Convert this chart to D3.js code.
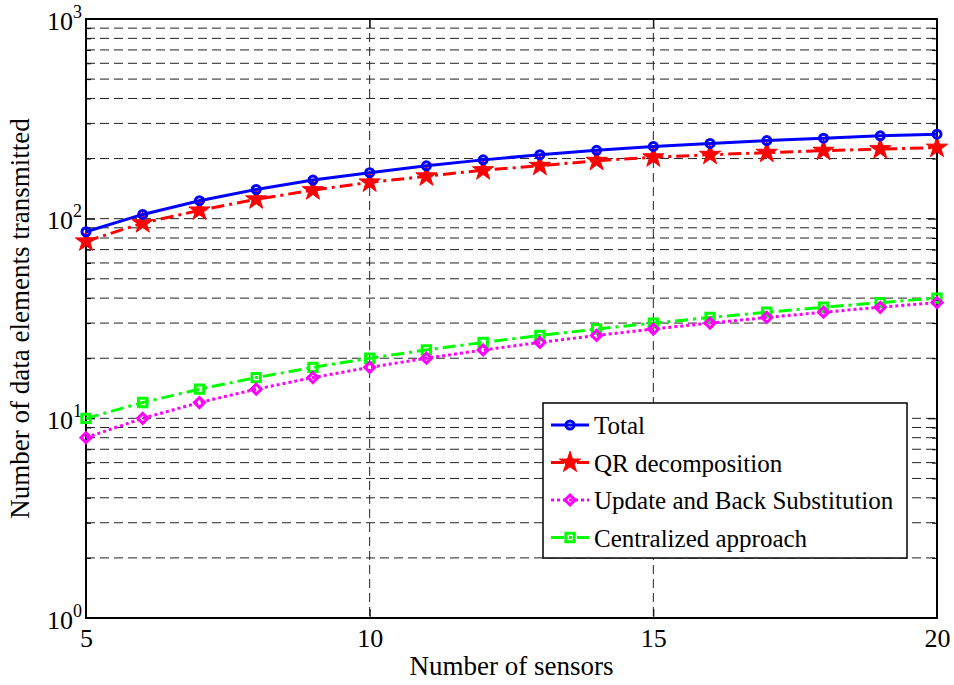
<!DOCTYPE html>
<html>
<head>
<meta charset="utf-8">
<script src="https://cdn.jsdelivr.net/npm/d3@7"></script>
<style>
  body { margin: 0; background: #fff; }
  svg { display: block; }
  svg text { font-family: "Liberation Serif", "Times New Roman", serif; }
</style>
</head>
<body>
<div class="chart"></div>
<script>
const width = 954;
const height = 685;
const margin = {top: 19, right: 17, bottom: 67, left: 86};

// data
const sensors = [5, 6, 7, 8, 9, 10, 11, 12, 13, 14, 15, 16, 17, 18, 19, 20];
const total = [86, 105, 123, 140, 156, 170, 184, 197, 209, 220, 230, 238, 246, 253, 260, 265];
const qrDecomp = [77, 95, 110, 125, 139, 152, 163, 175, 184, 195, 203, 209, 214, 219, 223, 227];
const updateBack = [8, 10, 12, 14, 16, 18, 20, 22, 24, 26, 28, 30, 32, 34, 36, 38];
const centralized = [10, 12, 14, 16, 18, 20, 22, 24, 26, 28, 30, 32, 34, 36, 38, 40];
const xTicks = [5, 10, 15, 20];
const yMajor = [1, 10, 100, 1000];
const yMinor = [2, 3, 4, 5, 6, 7, 8, 9, 20, 30, 40, 50, 60, 70, 80, 90, 200, 300, 400, 500, 600, 700, 800, 900];

const series = [
  {name: 'Total', values: total, color: '#0000ff', dash: null, marker: 'circle'},
  {name: 'QR decomposition', values: qrDecomp, color: '#ff0000', dash: '13,5,3,5', marker: 'star'},
  {name: 'Update and Back Substitution', values: updateBack, color: '#ff00ff', dash: '3,3', marker: 'diamond'},
  {name: 'Centralized approach', values: centralized, color: '#00ff00', dash: '13,5,3,5', marker: 'square'}
];

const innerWidth = width - margin.left - margin.right;
const innerHeight = height - margin.top - margin.bottom;

const svg = d3.select('.chart').append('svg')
  .attr('width', width)
  .attr('height', height);

const g = svg.append('g').attr('transform', `translate(${margin.left},${margin.top})`);

const xScale = d3.scaleLinear().domain([5, 20]).range([0, innerWidth]);
const yScale = d3.scaleLog().domain([1, 1000]).range([innerHeight, 0]);

// grid (dashed)
g.append('g').attr('class', 'grid')
  .selectAll('line.h')
  .data(yMajor.concat(yMinor).filter(v => v > 1 && v < 1000))
  .join('line')
  .attr('x1', 0).attr('x2', innerWidth)
  .attr('y1', d => yScale(d)).attr('y2', d => yScale(d))
  .attr('stroke', '#222').attr('stroke-width', 1).attr('stroke-dasharray', '9,5');

g.append('g').attr('class', 'grid')
  .selectAll('line.v')
  .data(xTicks.filter(v => v > 5 && v < 20))
  .join('line')
  .attr('x1', d => xScale(d)).attr('x2', d => xScale(d))
  .attr('y1', 0).attr('y2', innerHeight)
  .attr('stroke', '#222').attr('stroke-width', 1).attr('stroke-dasharray', '9,5');

// axes, ticks pointing inside
const axisStyle = sel => {
  sel.attr('font-family', null).attr('font-size', 26);
  sel.select('.domain').remove();
  sel.selectAll('.tick line').attr('stroke', '#000').attr('stroke-width', 1);
  sel.selectAll('.tick text').filter(function() { return !this.textContent; }).remove();
};

g.append('g')
  .attr('transform', `translate(0,${innerHeight})`)
  .call(d3.axisBottom(xScale).tickValues(xTicks).tickSize(-9).tickPadding(11).tickFormat(d3.format('d')))
  .call(axisStyle)
  .selectAll('text').attr('fill', '#000');

g.append('g')
  .call(d3.axisTop(xScale).tickValues(xTicks).tickSize(-9).tickFormat(''))
  .call(axisStyle);

const yAxis = g.append('g')
  .call(d3.axisLeft(yScale).tickValues(yMajor).tickSize(-9).tickFormat(''))
  .call(axisStyle);

yAxis.selectAll('.tick').append('text')
  .attr('x', -4).attr('y', 10)
  .attr('text-anchor', 'end')
  .attr('fill', '#000')
  .text('10')
  .append('tspan')
  .attr('dy', -12).attr('font-size', 18)
  .text(d => Math.round(Math.log10(d)));

g.append('g')
  .call(d3.axisLeft(yScale).tickValues(yMinor).tickSize(-5).tickFormat(''))
  .call(axisStyle);

g.append('g')
  .attr('transform', `translate(${innerWidth},0)`)
  .call(d3.axisRight(yScale).tickValues(yMajor).tickSize(-9).tickFormat(''))
  .call(axisStyle);

g.append('g')
  .attr('transform', `translate(${innerWidth},0)`)
  .call(d3.axisRight(yScale).tickValues(yMinor).tickSize(-5).tickFormat(''))
  .call(axisStyle);

// box
g.append('rect')
  .attr('width', innerWidth).attr('height', innerHeight)
  .attr('fill', 'none').attr('stroke', '#000').attr('stroke-width', 2);

// markers
const drawMarker = (sel, type, color) => {
  if (type === 'circle') {
    sel.append('circle').attr('r', 4)
      .attr('fill', 'none').attr('stroke', color).attr('stroke-width', 3);
  } else if (type === 'star') {
    sel.append('path').attr('d', d3.symbol(d3.symbolStar, 140)())
      .attr('fill', color).attr('stroke', color).attr('stroke-width', 1);
  } else if (type === 'diamond') {
    sel.append('path').attr('d', d3.symbol(d3.symbolSquare, 50)())
      .attr('transform', 'rotate(45)')
      .attr('fill', 'none').attr('stroke', color).attr('stroke-width', 3);
  } else if (type === 'square') {
    sel.append('path').attr('d', d3.symbol(d3.symbolSquare, 70)())
      .attr('fill', 'none').attr('stroke', color).attr('stroke-width', 3);
  }
};

const line = d3.line()
  .x((d, i) => xScale(sensors[i]))
  .y(d => yScale(d));

// draw from bottom series to top so blue sits above
series.slice().reverse().forEach(s => {
  g.append('path')
    .datum(s.values)
    .attr('d', line)
    .attr('fill', 'none')
    .attr('stroke', s.color)
    .attr('stroke-width', 3)
    .attr('stroke-dasharray', s.dash);

  g.append('g').selectAll('g')
    .data(s.values)
    .join('g')
    .attr('transform', (d, i) => `translate(${xScale(sensors[i])},${yScale(d)})`)
    .each(function() { drawMarker(d3.select(this), s.marker, s.color); });
});

// axis labels
svg.append('text')
  .attr('x', margin.left + innerWidth / 2)
  .attr('y', 675)
  .attr('text-anchor', 'middle')
  .attr('font-size', 27)
  .text('Number of sensors');

svg.append('text')
  .attr('transform', `translate(29,${margin.top + innerHeight / 2}) rotate(-90)`)
  .attr('text-anchor', 'middle')
  .attr('font-size', 27)
  .text('Number of data elements transmitted');

// legend
const legend = svg.append('g').attr('transform', 'translate(543,403)');
legend.append('rect')
  .attr('width', 364).attr('height', 155)
  .attr('fill', '#fff').attr('stroke', '#000').attr('stroke-width', 1.5);

const rows = legend.selectAll('g.row')
  .data(series)
  .join('g')
  .attr('class', 'row')
  .attr('transform', (d, i) => `translate(0,${22 + i * 37.5})`);

rows.append('line')
  .attr('x1', 8).attr('x2', 46)
  .attr('stroke', d => d.color)
  .attr('stroke-width', 3)
  .attr('stroke-dasharray', d => d.dash);

rows.append('g')
  .attr('transform', 'translate(27,0)')
  .each(function(d) { drawMarker(d3.select(this), d.marker, d.color); });

rows.append('text')
  .attr('x', 51).attr('y', 9)
  .attr('font-size', 25)
  .text(d => d.name);
</script>
</body>
</html>
